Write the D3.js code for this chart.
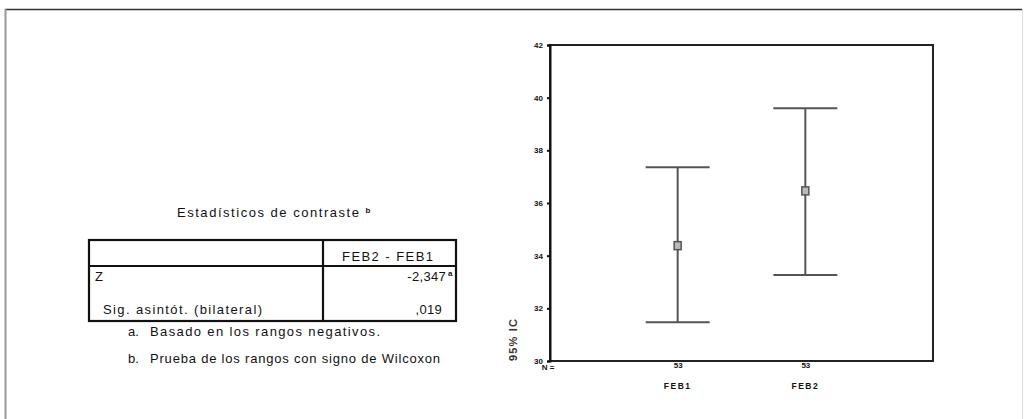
<!DOCTYPE html>
<html><head><meta charset="utf-8">
<script src="https://cdn.jsdelivr.net/npm/d3@7"></script>
<style>
html,body{margin:0;padding:0;background:#fff;}
svg{display:block;}
</style></head>
<body>
<svg id="c" width="1026" height="419"></svg>
<script>
// ---- data ----
const categories = ["FEB1", "FEB2"];
const nLabels = ["53", "53"];
const means = [34.38, 36.46];
const lowerCI = [31.47, 33.27];
const upperCI = [37.36, 39.60];
const yTicks = [30, 32, 34, 36, 38, 40, 42];
const yTitle = "95% IC";

const tableTitle = "Estadísticos de contraste";
const tableTitleSup = "b";
const tableHeader = "FEB2 - FEB1";
const rowLabels = ["Z", "Sig. asintót. (bilateral)"];
const rowValues = ["-2,347", ",019"];
const rowSups = ["a", ""];
const footnoteKeys = ["a.", "b."];
const footnotes = ["Basado en los rangos negativos.", "Prueba de los rangos con signo de Wilcoxon"];

// ---- drawing ----
const svg = d3.select("#c");
const font = "'Liberation Sans', Arial, sans-serif";

// outer frame
svg.append("line").attr("x1",5).attr("x2",1022).attr("y1",9.5).attr("y2",9.5).attr("stroke","#333").attr("stroke-width",1.5);
svg.append("line").attr("x1",5.5).attr("x2",5.5).attr("y1",9).attr("y2",419).attr("stroke","#999").attr("stroke-width",2);
svg.append("line").attr("x1",1022.5).attr("x2",1022.5).attr("y1",9).attr("y2",419).attr("stroke","#ddd").attr("stroke-width",1);

// chart
const L = 550, R = 933, T = 45, B = 361;
const y = d3.scaleLinear().domain([30, 42]).range([B, T]);
const x = d3.scalePoint().domain(categories).range([L, R]).padding(1);

const g = svg.append("g");
g.append("rect").attr("x",L).attr("y",T).attr("width",R-L).attr("height",B-T)
  .attr("fill","none").attr("stroke","#222").attr("stroke-width",2);

// y axis
const yAxis = d3.axisLeft(y).tickValues(yTicks).tickSize(3).tickFormat(d3.format("d"));
const ya = g.append("g").attr("transform",`translate(${L},0)`).call(yAxis);
ya.select(".domain").attr("stroke","#111").attr("stroke-width",2);
ya.selectAll(".tick line").attr("stroke","#111").attr("stroke-width",2);
ya.selectAll(".tick text").attr("font-family",font).attr("font-size",8).attr("font-weight","bold").attr("fill","#111").attr("x",-7);

// y title
g.append("text").attr("transform",`translate(517,${B}) rotate(-90)`)
  .attr("font-family",font).attr("font-size",11).attr("font-weight","bold").attr("fill","#333")
  .attr("text-anchor","start").attr("textLength",42).attr("lengthAdjust","spacing").text(yTitle);

// x axis labels
const xAxis = d3.axisBottom(x).tickSize(0).tickFormat((d,i)=>nLabels[i]);
const xa = g.append("g").attr("transform",`translate(0,${B})`).call(xAxis);
xa.select(".domain").remove();
xa.selectAll(".tick text").attr("font-family",font).attr("font-size",8).attr("font-weight","bold").attr("fill","#111").attr("dy","0.45em");
g.append("text").attr("x",L-2).attr("y",B+9).attr("font-family",font).attr("font-size",8).attr("font-weight","bold").attr("fill","#111").attr("text-anchor","middle").text("N =");
g.selectAll(".catlab").data(categories).enter().append("text")
  .attr("x",d=>x(d)).attr("y",B+28).attr("text-anchor","middle")
  .attr("font-family",font).attr("font-size",8.5).attr("font-weight","bold").attr("fill","#111")
  .attr("letter-spacing",1.5).text(d=>d);

// error bars
const cap = 32;
const eb = g.selectAll(".eb").data(categories).enter().append("g");
eb.append("line").attr("x1",d=>x(d)).attr("x2",d=>x(d)).attr("y1",(d,i)=>y(upperCI[i])).attr("y2",(d,i)=>y(lowerCI[i])).attr("stroke","#555").attr("stroke-width",2);
eb.append("line").attr("x1",d=>x(d)-cap).attr("x2",d=>x(d)+cap).attr("y1",(d,i)=>y(upperCI[i])).attr("y2",(d,i)=>y(upperCI[i])).attr("stroke","#555").attr("stroke-width",2);
eb.append("line").attr("x1",d=>x(d)-cap).attr("x2",d=>x(d)+cap).attr("y1",(d,i)=>y(lowerCI[i])).attr("y2",(d,i)=>y(lowerCI[i])).attr("stroke","#555").attr("stroke-width",2);
eb.append("rect").attr("x",d=>x(d)-3.5).attr("y",(d,i)=>y(means[i])-4).attr("width",7).attr("height",8)
  .attr("fill","#bbb").attr("stroke","#555").attr("stroke-width",1.5);

// ---- table ----
const tf = 13;
const tt = svg.append("text").attr("x",177).attr("y",217).attr("font-family",font).attr("font-size",tf).attr("fill","#111");
tt.append("tspan").attr("textLength",182).attr("lengthAdjust","spacing").text(tableTitle);
tt.append("tspan").attr("font-size",8).attr("dx",5).attr("dy",-4).attr("font-weight","bold").text(tableTitleSup);

const tL = 89, tM = 323, tR = 456, tT = 240, tH = 266, tB = 321;
const tg = svg.append("g").attr("stroke","#111").attr("stroke-width",2.2);
tg.append("rect").attr("x",tL).attr("y",tT).attr("width",tR-tL).attr("height",tB-tT).attr("fill","none");
tg.append("line").attr("x1",tM).attr("x2",tM).attr("y1",tT).attr("y2",tB);
tg.append("line").attr("x1",tL).attr("x2",tR).attr("y1",tH).attr("y2",tH);

svg.append("text").attr("x",342).attr("y",261)
  .attr("font-family",font).attr("font-size",tf).attr("fill","#111")
  .attr("textLength",91).attr("lengthAdjust","spacing").text(tableHeader);

const rowY = [281, 314];
const rowX = [95, 103];
const rowLen = [null, 159];
rowLabels.forEach((t,i)=>{
  const lt = svg.append("text").attr("x",rowX[i]).attr("y",rowY[i]).attr("font-family",font).attr("font-size",tf).attr("fill","#111").text(t);
  if(rowLen[i]) lt.attr("textLength",rowLen[i]).attr("lengthAdjust","spacing");
  svg.append("text").attr("x", rowSups[i] ? 446 : 442).attr("y",rowY[i]).attr("text-anchor","end")
    .attr("font-family",font).attr("font-size",tf).attr("fill","#111").attr("letter-spacing",0.3).text(rowValues[i]);
  if(rowSups[i]) svg.append("text").attr("x",448).attr("y",rowY[i]-5).attr("font-family",font).attr("font-size",8).attr("font-weight","bold").attr("fill","#111").text(rowSups[i]);
});

const fnY = [336, 363];
const fnLen = [230, 290];
footnotes.forEach((t,i)=>{
  svg.append("text").attr("x",128).attr("y",fnY[i]).attr("font-family",font).attr("font-size",tf).attr("fill","#111").text(footnoteKeys[i]);
  svg.append("text").attr("x",150).attr("y",fnY[i]).attr("font-family",font).attr("font-size",tf).attr("fill","#111")
    .attr("textLength",fnLen[i]).attr("lengthAdjust","spacing").text(t);
});
</script>
</body></html>
